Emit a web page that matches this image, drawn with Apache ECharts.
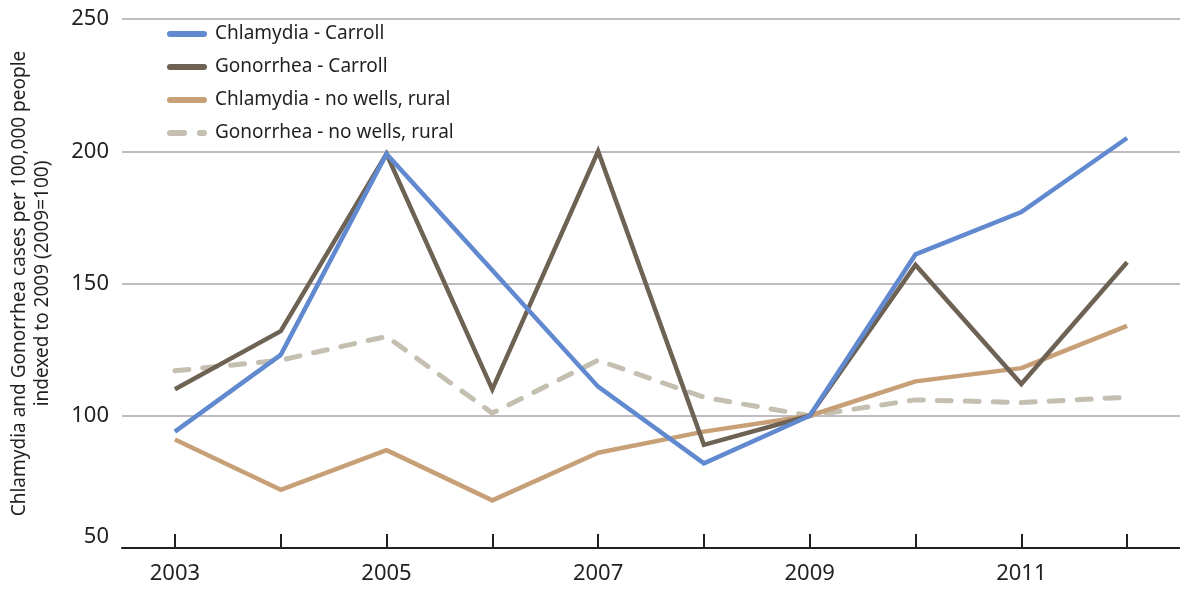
<!DOCTYPE html>
<html>
<head>
<meta charset="utf-8">
<title>Chlamydia and Gonorrhea index, 2003–2012</title>
<script src="https://cdn.jsdelivr.net/npm/echarts@6/dist/echarts.min.js"></script>
<style>
  html, body { margin: 0; padding: 0; background: #fff; }
  #chart { width: 1180px; height: 593px; }
</style>
</head>
<body>
<div id="chart"></div>
<script>
// Years on the horizontal axis
const years = ['2003', '2004', '2005', '2006', '2007', '2008', '2009', '2010', '2011', '2012'];

// Cases per 100,000 people, indexed to 2009 (2009 = 100)
const chlamydiaCarroll = [94, 123, 199, 155, 111, 82, 100, 161, 177, 205];
const gonorrheaCarroll = [110, 132, 199, 110, 200, 89, 100, 157, 112, 158];
const chlamydiaRural = [91, 72, 87, 68, 86, 94, 100, 113, 118, 134];
const gonorrheaRural = [117, 121, 130, 101, 121, 107, 100, 106, 105, 107];

const seriesNames = [
  'Chlamydia - Carroll',
  'Gonorrhea - Carroll',
  'Chlamydia - no wells, rural',
  'Gonorrhea - no wells, rural'
];

const yAxisName = 'Chlamydia and Gonorrhea cases per 100,000 people\nindexed to 2009 (2009=100)';

const FONT = '"Noto Sans", sans-serif';
const INK = '#231f20';
const colors = {
  chlCarroll: '#6189cf',
  gonCarroll: '#6d6253',
  chlRural: '#c8a077',
  gonRural: '#c4bfb1'
};

// Legend swatches: a rounded bar, and a long + short dash for the dashed series
const barIcon = 'path://M3,0h34a3,3 0 0 1 0,6h-34a3,3 0 0 1 0,-6z';
const dashIcon = 'path://M3,0h14a3,3 0 0 1 0,6h-14a3,3 0 0 1 0,-6z M33,0h4a3,3 0 0 1 0,6h-4a3,3 0 0 1 0,-6z';

const chart = echarts.init(document.getElementById('chart'), null, { renderer: 'canvas' });

chart.setOption({
  backgroundColor: '#ffffff',
  animation: false,
  textStyle: { fontFamily: FONT, color: INK },
  grid: { left: 120, right: 0, top: 19, bottom: 45, containLabel: false },
  legend: {
    orient: 'vertical',
    left: 167,
    top: 24,
    padding: 0,
    itemWidth: 40,
    itemHeight: 6,
    itemGap: 13,
    selectedMode: false,
    textStyle: { fontFamily: FONT, fontSize: 19, lineHeight: 20, color: INK, padding: [0, 0, 0, 3] },
    data: [
      { name: seriesNames[0], icon: barIcon },
      { name: seriesNames[1], icon: barIcon },
      { name: seriesNames[2], icon: barIcon },
      { name: seriesNames[3], icon: dashIcon }
    ]
  },
  xAxis: {
    type: 'category',
    data: years,
    boundaryGap: true,
    axisLine: { show: true, lineStyle: { color: INK, width: 2 } },
    axisTick: {
      show: true,
      inside: true,
      length: 14,
      interval: 0,
      alignWithLabel: true,
      lineStyle: { color: INK, width: 2 }
    },
    axisLabel: {
      interval: 1,
      margin: 15,
      fontFamily: FONT,
      fontSize: 22,
      color: INK
    },
    splitLine: { show: false }
  },
  yAxis: {
    type: 'value',
    min: 50,
    max: 250,
    interval: 50,
    name: yAxisName,
    nameLocation: 'middle',
    nameGap: 68,
    nameRotate: 90,
    nameTextStyle: { fontFamily: FONT, fontSize: 19, lineHeight: 23, color: INK, align: 'center' },
    axisLine: { show: false },
    axisTick: { show: false },
    axisLabel: {
      margin: 13,
      fontFamily: FONT,
      fontSize: 22,
      color: INK,
      formatter: function (v) { return v === 50 ? '{low|' + v + '}' : '' + v; },
      rich: {
        low: { fontFamily: FONT, fontSize: 22, color: INK, padding: [0, 0, 22, 0] }
      }
    },
    splitLine: { show: true, lineStyle: { color: '#aaa6ad', width: 1.5 } }
  },
  series: [
    {
      name: seriesNames[3],
      type: 'line',
      data: gonorrheaRural,
      symbol: 'none',
      color: colors.gonRural,
      lineStyle: { color: colors.gonRural, width: 5, type: [14, 14], cap: 'round', join: 'round' },
      z: 2
    },
    {
      name: seriesNames[2],
      type: 'line',
      data: chlamydiaRural,
      symbol: 'none',
      color: colors.chlRural,
      lineStyle: { color: colors.chlRural, width: 4.5, join: 'round' },
      z: 3
    },
    {
      name: seriesNames[1],
      type: 'line',
      data: gonorrheaCarroll,
      symbol: 'none',
      color: colors.gonCarroll,
      lineStyle: { color: colors.gonCarroll, width: 4.5, join: 'miter' },
      z: 4
    },
    {
      name: seriesNames[0],
      type: 'line',
      data: chlamydiaCarroll,
      symbol: 'none',
      color: colors.chlCarroll,
      lineStyle: { color: colors.chlCarroll, width: 4.5, join: 'miter' },
      z: 5
    }
  ]
});
</script>
</body>
</html>
